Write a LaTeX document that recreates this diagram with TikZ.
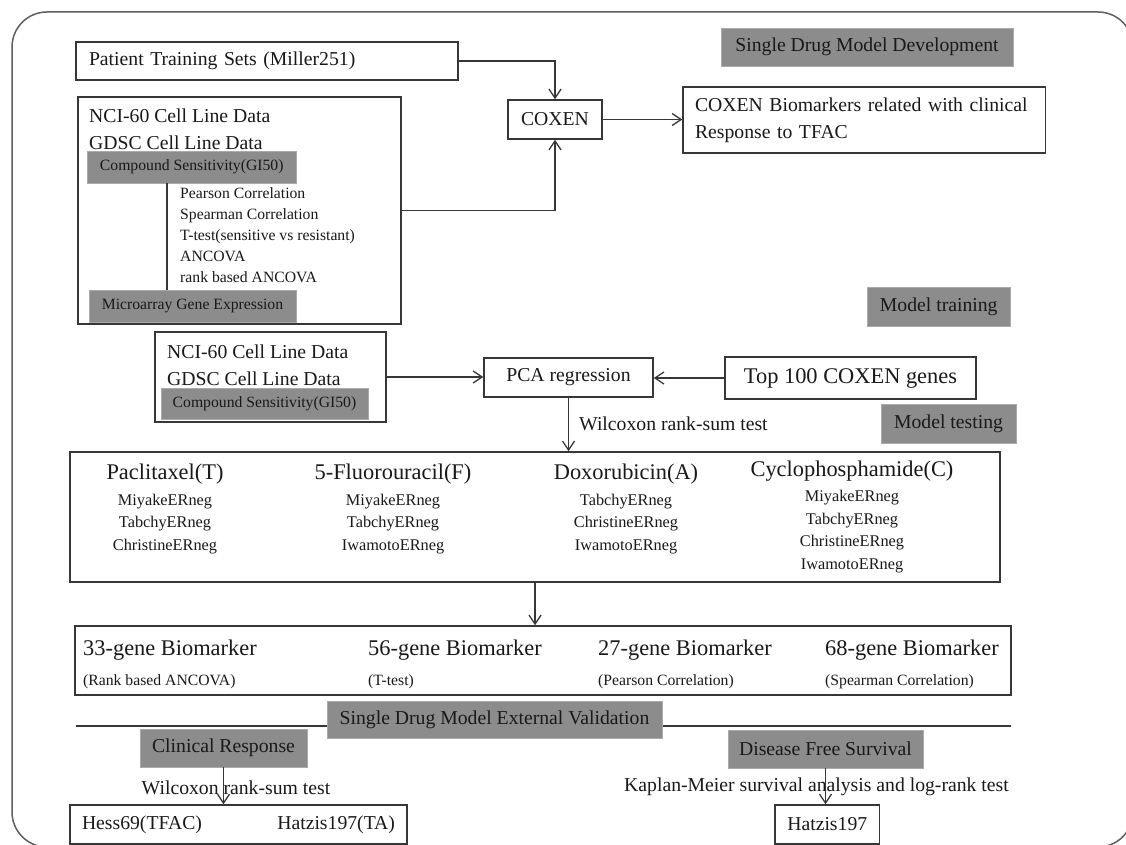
\documentclass[tikz,border=0pt]{standalone}
\usepackage{fontspec}
\setmainfont{Liberation Serif}
\usetikzlibrary{arrows.meta,calc}
\definecolor{gfill}{RGB}{140,140,140}
\definecolor{gbord}{RGB}{170,170,170}
\definecolor{lncol}{RGB}{55,55,55}
\definecolor{txt}{RGB}{25,25,25}
\newcommand\Fmain{\fontsize{19.7pt}{27pt}\selectfont}
\newcommand\Fsmall{\fontsize{15.7pt}{21pt}\selectfont}
\newcommand\Fsub{\fontsize{16.3pt}{22.5pt}\selectfont}
\newcommand\Flarge{\fontsize{22.4pt}{28pt}\selectfont}
\begin{document}
\begin{tikzpicture}[x=1pt,y=-1pt,
  every node/.style={text=txt},
  box/.style={draw=lncol, line width=1.5pt, fill=white, inner sep=0pt, font=\Fmain},
  gbox/.style={draw=gbord, line width=0.8pt, fill=gfill, inner sep=0pt, font=\Fmain},
  lbl/.style={inner sep=0pt, font=\Fmain},
  conn/.style={draw=lncol, line width=1.3pt},
  arr/.style={draw=lncol, line width=1.3pt, -{Straight Barb[length=9pt,width=12pt]}},
  sz/.style n args={2}{minimum width=#1pt, minimum height=#2pt}
]
\useasboundingbox (0,0) rectangle (1126,845);
\fill[white] (0,0) rectangle (1126,845);
% outer frame
\draw[draw=lncol!80, line width=1.5pt, rounded corners=35pt] (12,12) rectangle (1133,847);

% ---- top section ----
\node[box, sz={382}{38}, text width=356pt, align=left] (patient) at (267,61) {Patient Training Sets (Miller251)};
\node[box, sz={323}{227}] (nci) at (239.5,210.5) {};
\node[lbl, anchor=west, align=left] (ncitxt) at (89,129.5) {NCI-60 Cell Line Data\\GDSC Cell Line Data};
\node[gbox, sz={208.5}{32}, font=\Fsmall] (cs1) at (191.75,167) {Compound Sensitivity(GI50)};
\node[gbox, sz={207}{32}, font=\Fsmall] (ma) at (192.5,306) {Microarray Gene Expression};
\node[lbl, anchor=west, align=left, font=\Fsmall] (meth) at (180,235)
  {Pearson Correlation\\Spearman Correlation\\T-test(sensitive vs resistant)\\ANCOVA\\rank based ANCOVA};
\coordinate (vline) at ([xshift=-13pt]meth.west);
\draw[conn] (vline |- cs1.south) -- (vline |- ma.north);

\node[box, sz={94}{39}] (coxen) at (555,119.5) {COXEN};
\node[box, sz={362.5}{66}, text width=338.5pt, align=left] (bm) at (864.25,120)
  {COXEN Biomarkers related with clinical\\Response to TFAC};
\node[gbox, sz={292}{38}] (sdmd) at (867,47) {Single Drug Model Development};
\node[gbox, sz={143.5}{39}] (mtrain) at (938.75,306.5) {Model training};

\draw[arr] (patient.east) -| (coxen.north);
\draw[arr] (nci.east) -| (coxen.south);
\draw[arr] (coxen.east) -- (coxen.east -| bm.west);

% ---- middle section ----
\node[box, sz={231}{90}] (nci2) at (270.5,377) {};
\node[lbl, anchor=west, align=left] (nci2txt) at (167,365) {NCI-60 Cell Line Data\\GDSC Cell Line Data};
\node[gbox, sz={207}{31}, font=\Fsmall] (cs2) at (264.5,403.5) {Compound Sensitivity(GI50)};
\node[box, sz={169}{39}] (pca) at (568.5,377.5) {PCA regression};
\node[box, sz={251}{42}, font=\Flarge] (top) at (850.5,378) {Top 100 COXEN genes};
\node[gbox, sz={135}{39}] (mtest) at (948.5,423.5) {Model testing};
\node[lbl, anchor=west] (wil1) at (579,424) {Wilcoxon rank-sum test};

\draw[arr] (nci2.east) -- (nci2.east -| pca.west);
\draw[arr] (top.west) -- (top.west -| pca.east);

\node[box, sz={930}{130}] (drugs) at (535,517) {};
\draw[arr] (pca.south) -- (pca.south |- drugs.north);

\node[lbl, font=\Flarge] (d1h) at (165,474) {Paclitaxel(T)};
\node[lbl, font=\Fsub, align=center] (d1l) at (165,524) {MiyakeERneg\\TabchyERneg\\ChristineERneg};
\node[lbl, font=\Flarge] (d2h) at (393,474) {5-Fluorouracil(F)};
\node[lbl, font=\Fsub, align=center] (d2l) at (393,524) {MiyakeERneg\\TabchyERneg\\IwamotoERneg};
\node[lbl, font=\Flarge] (d3h) at (626,474) {Doxorubicin(A)};
\node[lbl, font=\Fsub, align=center] (d3l) at (626,524) {TabchyERneg\\ChristineERneg\\IwamotoERneg};
\node[lbl, font=\Flarge] (d4h) at (852,471) {Cyclophosphamide(C)};
\node[lbl, font=\Fsub, align=center] (d4l) at (852,531.5) {MiyakeERneg\\TabchyERneg\\ChristineERneg\\IwamotoERneg};

% ---- biomarkers ----
\node[box, sz={936}{69}] (bio) at (543,660.5) {};
\draw[arr] (drugs.south) -- (drugs.south |- bio.north);
\node[lbl, font=\Flarge, anchor=west] (b1h) at (83,650) {33-gene Biomarker};
\node[lbl, font=\Fsmall, anchor=west] (b1s) at (83,682) {(Rank based ANCOVA)};
\node[lbl, font=\Flarge, anchor=west] (b2h) at (368,650) {56-gene Biomarker};
\node[lbl, font=\Fsmall, anchor=west] (b2s) at (368,682) {(T-test)};
\node[lbl, font=\Flarge, anchor=west] (b3h) at (598,650) {27-gene Biomarker};
\node[lbl, font=\Fsmall, anchor=west] (b3s) at (598,682) {(Pearson Correlation)};
\node[lbl, font=\Flarge, anchor=west] (b4h) at (825,650) {68-gene Biomarker};
\node[lbl, font=\Fsmall, anchor=west] (b4s) at (825,682) {(Spearman Correlation)};

% ---- validation ----
\coordinate (vl) at (76,726);
\coordinate (vr) at (1010.5,726);
\draw[conn, line width=1.2pt] (vl) -- (vr);
\node[gbox, sz={335}{37}] (sdmev) at (494.5,719.5) {Single Drug Model External Validation};
\node[gbox, sz={167}{38}] (cr) at (223.5,748) {Clinical Response};
\node[gbox, sz={195}{38}] (dfs) at (825.5,749) {Disease Free Survival};
\node[lbl] (wil2) at (236,788) {Wilcoxon rank-sum test};
\node[lbl] (km) at (816.5,787) {Kaplan-Meier survival analysis and log-rank test};
\node[box, sz={337}{39}, text width=313pt] (hess) at (238.5,824.5) {Hess69(TFAC)\hfill Hatzis197(TA)};
\node[box, sz={104.5}{39}] (hatz) at (827.25,824.5) {Hatzis197};
\draw[arr] (cr.south) -- (cr.south |- hess.north);
\draw[arr] (dfs.south) -- (dfs.south |- hatz.north);
\end{tikzpicture}
\end{document}
